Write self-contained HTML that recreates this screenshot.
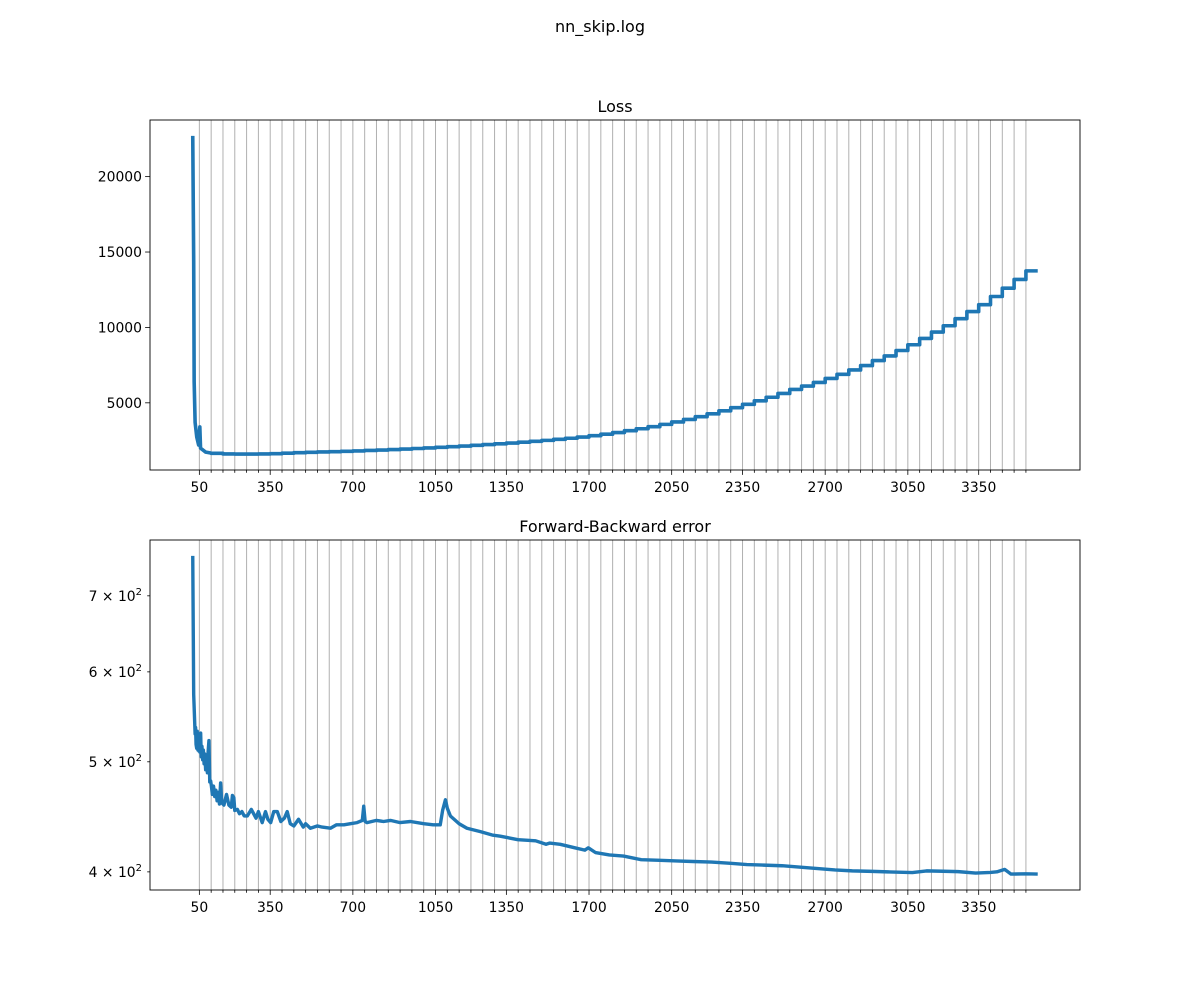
<!DOCTYPE html>
<html><head><meta charset="utf-8"><style>
html,body{margin:0;padding:0;background:#fff;}
svg{display:block;font-family:"DejaVu Sans","Liberation Sans",sans-serif;}
</style></head><body>
<svg id="fig" width="1200" height="1000" viewBox="0 0 1200 1000">
<rect width="1200" height="1000" fill="#fff"/>
<text x="600" y="32" text-anchor="middle" font-size="16">nn_skip.log</text>
<g id="ax1"></g>
<g id="ax2"></g>
</svg>
<script>
// ---- data ----
const lossEarlyX = [22, 26, 28, 32, 39, 47, 52, 55, 60, 77, 98, 100];
const lossEarlyY = [22700, 14400, 6400, 3700, 2730, 2200, 3400, 2000, 1930, 1730, 1670, 1650];
const epochStarts = [100,150,200,250,300,350,400,450,500,550,600,650,700,750,800,850,900,950,1000,1050,1100,1150,1200,1250,1300,1350,1400,1450,1500,1550,1600,1650,1700,1750,1800,1850,1900,1950,2000,2050,2100,2150,2200,2250,2300,2350,2400,2450,2500,2550,2600,2650,2700,2750,2800,2850,2900,2950,3000,3050,3100,3150,3200,3250,3300,3350,3400,3450,3500,3550];
const epochLoss = [1650,1610,1600,1600,1610,1630,1660,1690,1720,1740,1760,1785,1810,1840,1870,1900,1930,1970,2010,2050,2090,2130,2180,2230,2280,2330,2390,2450,2510,2580,2650,2730,2820,2920,3030,3150,3280,3420,3570,3730,3900,4080,4270,4470,4680,4900,5130,5370,5620,5890,6110,6350,6620,6890,7180,7470,7800,8110,8470,8850,9270,9690,10110,10580,11050,11510,12050,12600,13180,13750];
const fbX = [22,26,32,34,36,38.6,41,44,46,48.3,50,52,55.5,58,61,64,67,70,73,76.6,80,84,87,90.6,94,97.8,101,105,110,115,120,125,130,135,140,145,154,165,175,185,190,196,200,211,220,230,240,253,270,290,300,316,330,340,352,365,380,395,410,422,435,450,470,490,500,520,549,570,605,630,662,690,718,740,746,752,760,800,830,859,900,944,1000,1040,1070,1080,1092,1100,1113,1150,1183,1240,1290,1324,1399,1474,1518,1533,1578,1640,1682,1697,1727,1786,1846,1921,2000,2070,2140,2219,2300,2368,2440,2517,2622,2741,2815,2900,2965,3069,3129,3200,3263,3337,3400,3427,3460,3487,3550,3600];
const fbY = [759,573,529,536,518,514,532,512,522,511,526,510,530,505,516,502,512,498,508,492,505,489,510,522,480,481,476,468,476,466,472,462,470,459,479,460,458,468,458,456,467,465,453,454,450,452,448,448,454,446,452,442,452,445,442,452,452,443,446,452,441,439,445,438,441,437,439,438,437,440,440,441,442,444,457,443,442,444,443,444,442,443,441,440,440,453,463,455,448,441,437,434,431,430,427,426,423,424,423,420,418,420,416,414,413,410,409.5,409,408.5,408,407,406,405.5,405,403.4,401.6,400.8,400.4,400,399.4,400.8,400.5,400.2,399,399.5,400,402,398.2,398.4,398.2];
const xTickLabels = [50,350,700,1050,1350,1700,2050,2350,2700,3050,3350];
const lossTicks = [5000,10000,15000,20000];
const fbTicks = [400,500,600,700];

const NS = "http://www.w3.org/2000/svg";
function mk(parent, tag, attrs){ const e=document.createElementNS(NS,tag); for(const k in attrs) e.setAttribute(k,attrs[k]); parent.appendChild(e); return e; }

const L=150, R=1080;
const dataMin=20, dataMax=3600, span=dataMax-dataMin;
const xmin=dataMin-0.05*span, xmax=dataMax+0.05*span;
function xs(u){ return L+(u-xmin)/(xmax-xmin)*(R-L); }

const lossTop=120, lossBot=470;
const lMin=1600, lMax=22700, lSpan=lMax-lMin;
const lyMin=lMin-0.05*lSpan, lyMax=lMax+0.05*lSpan;
function ly(v){ return lossBot-(v-lyMin)/(lyMax-lyMin)*(lossBot-lossTop); }
const fbTop=540, fbBot=890;
const fMin=Math.log10(398.2), fMax=Math.log10(759), fSpan=fMax-fMin;
const fyMin=fMin-0.05*fSpan, fyMax=fMax+0.05*fSpan;
function fy(v){ return fbBot-(Math.log10(v)-fyMin)/(fyMax-fyMin)*(fbBot-fbTop); }

function drawAxes(g, top, bot, title){
  const t=mk(g,'text',{x:(L+R)/2,y:top-8,'text-anchor':'middle','font-size':'16'});
  t.textContent=title;
  
  
  for(let u=50; u<=3550; u+=50){
    const ln=mk(g,'line',{x1:xs(u),x2:xs(u),y1:top,y2:bot,stroke:'#b0b0b0','stroke-width':'1'});
    
    
    const major = xTickLabels.indexOf(u)>=0;
    const tk=mk(g,'line',{x1:xs(u),x2:xs(u),y1:bot,y2:bot+(major?4.9:2.8),stroke:'#000','stroke-width':'0.8'});
    
    
  }
  xTickLabels.forEach(u=>{
    const tl=mk(g,'text',{x:xs(u),y:bot+22,'text-anchor':'middle','font-size':'13.9'});
    tl.textContent=String(u);
    
    
  });
}

const g1=document.getElementById('ax1');
drawAxes(g1, lossTop, lossBot, 'Loss');
lossTicks.forEach(v=>{
  const tk=mk(g1,'line',{x1:L-4.9,x2:L,y1:ly(v),y2:ly(v),stroke:'#000','stroke-width':'0.8'});
  
  
  const tl=mk(g1,'text',{x:L-8,y:ly(v)+5,'text-anchor':'end','font-size':'13.9'});
  tl.textContent=String(v);
  
  
});
let d='';
lossEarlyX.forEach((u,i)=>{ d+=(i?'L':'M')+xs(u).toFixed(2)+','+ly(lossEarlyY[i]).toFixed(2); });
epochStarts.forEach((s,i)=>{
  const e = i<epochStarts.length-1 ? epochStarts[i+1] : dataMax;
  d+='L'+xs(s).toFixed(2)+','+ly(epochLoss[i]).toFixed(2)+'L'+xs(e).toFixed(2)+','+ly(epochLoss[i]).toFixed(2);
});
const p1=mk(g1,'path',{d:d,fill:'none',stroke:'#1f77b4','stroke-width':'3.6','stroke-linejoin':'round'});


const f1=mk(g1,'rect',{x:L,y:lossTop,width:R-L,height:lossBot-lossTop,fill:'none',stroke:'#000','stroke-width':'0.9'});



const g2=document.getElementById('ax2');
drawAxes(g2, fbTop, fbBot, 'Forward-Backward error');
fbTicks.forEach(v=>{
  const tk=mk(g2,'line',{x1:L-2.8,x2:L,y1:fy(v),y2:fy(v),stroke:'#000','stroke-width':'0.8'});
  
  
  const tl=mk(g2,'text',{x:L-8,y:fy(v)+5,'text-anchor':'end','font-size':'13.9'});
  
  
  const a=document.createElementNS(NS,'tspan'); a.textContent=(v/100)+' \u00d7 10'; tl.appendChild(a);
  const b=document.createElementNS(NS,'tspan'); b.setAttribute('dy','-6'); b.setAttribute('font-size','10'); b.textContent='2'; tl.appendChild(b);
});
let d2='';
fbX.forEach((u,i)=>{ d2+=(i?'L':'M')+xs(u).toFixed(2)+','+fy(fbY[i]).toFixed(2); });
const p2=mk(g2,'path',{d:d2,fill:'none',stroke:'#1f77b4','stroke-width':'3.4','stroke-linejoin':'round'});


const f2=mk(g2,'rect',{x:L,y:fbTop,width:R-L,height:fbBot-fbTop,fill:'none',stroke:'#000','stroke-width':'0.9'});


</script>
</body></html>
